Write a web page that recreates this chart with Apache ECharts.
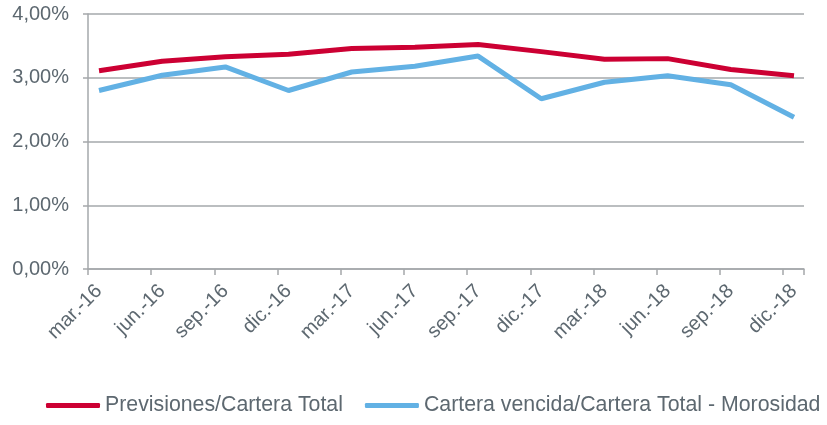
<!DOCTYPE html>
<html>
<head>
<meta charset="utf-8">
<script src="https://cdn.jsdelivr.net/npm/echarts@6/dist/echarts.min.js"></script>
<style>
  html, body { margin: 0; padding: 0; background: #fff; }
  #chart { width: 827px; height: 425px; }
</style>
</head>
<body>
<div id="chart"></div>
<script>
var categories = ['mar.-16', 'jun.-16', 'sep.-16', 'dic.-16', 'mar.-17', 'jun.-17',
  'sep.-17', 'dic.-17', 'mar.-18', 'jun.-18', 'sep.-18', 'dic.-18'];
var previsiones = [3.11, 3.26, 3.33, 3.37, 3.46, 3.48, 3.52, 3.41, 3.29, 3.30, 3.13, 3.03];
var morosidad = [2.80, 3.04, 3.17, 2.80, 3.09, 3.18, 3.34, 2.67, 2.93, 3.03, 2.89, 2.38];
var yTicks = [0, 1, 2, 3, 4];

var textColor = '#5d6870';
var gridColor = '#a5a8ab';

var chart = echarts.init(document.getElementById('chart'));
var option = {
  animation: false,
  textStyle: { fontFamily: 'Liberation Sans', color: textColor },
  // grid 0: frame, y axis, gridlines and tick marks
  // grid 1: the lines and the month labels (points sit a bit right of the ticks)
  grid: [
    { left: 88, right: 23, top: 14, bottom: 156 },
    { left: 99, right: 33, top: 14, bottom: 156 }
  ],
  legend: {
    top: 395,
    left: 46,
    padding: 0,
    itemWidth: 54,
    itemHeight: 5,
    itemGap: 22,
    icon: 'roundRect',
    textStyle: { fontSize: 21.3, color: textColor },
    data: ['Previsiones/Cartera Total', 'Cartera vencida/Cartera Total - Morosidad']
  },
  xAxis: [
    {
      type: 'value',
      gridIndex: 0,
      min: 0,
      max: 11.33,
      interval: 1,
      splitLine: { show: false },
      axisLine: { lineStyle: { color: gridColor, width: 1.5 } },
      axisTick: { show: true, length: 6, lineStyle: { color: gridColor, width: 1.5 } },
      axisLabel: { show: false }
    },
    {
      type: 'category',
      gridIndex: 1,
      boundaryGap: false,
      data: categories,
      axisLine: { show: false },
      axisTick: { show: false },
      axisLabel: {
        rotate: 45,
        fontSize: 20,
        color: textColor,
        margin: 19,
        interval: 0
      }
    }
  ],
  yAxis: [
    {
      type: 'value',
      gridIndex: 0,
      min: yTicks[0],
      max: yTicks[yTicks.length - 1],
      interval: 1,
      axisLine: { show: true, onZero: false, lineStyle: { color: gridColor, width: 1.5 } },
      axisTick: { show: true, length: 5, lineStyle: { color: gridColor, width: 1.5 } },
      splitLine: { lineStyle: { color: gridColor, width: 1.5 } },
      axisLabel: {
        fontSize: 20,
        color: textColor,
        margin: 19,
        formatter: function (v) {
          return v.toFixed(2).replace('.', ',') + '%';
        }
      }
    },
    {
      type: 'value',
      gridIndex: 1,
      min: yTicks[0],
      max: yTicks[yTicks.length - 1],
      show: false
    }
  ],
  series: [
    {
      name: 'Previsiones/Cartera Total',
      type: 'line',
      xAxisIndex: 1,
      yAxisIndex: 1,
      data: previsiones,
      showSymbol: false,
      color: '#cc0033',
      lineStyle: { width: 5, color: '#cc0033' }
    },
    {
      name: 'Cartera vencida/Cartera Total - Morosidad',
      type: 'line',
      xAxisIndex: 1,
      yAxisIndex: 1,
      data: morosidad,
      showSymbol: false,
      color: '#62b1e4',
      lineStyle: { width: 5, color: '#62b1e4' }
    }
  ]
};
chart.setOption(option);
</script>
</body>
</html>
